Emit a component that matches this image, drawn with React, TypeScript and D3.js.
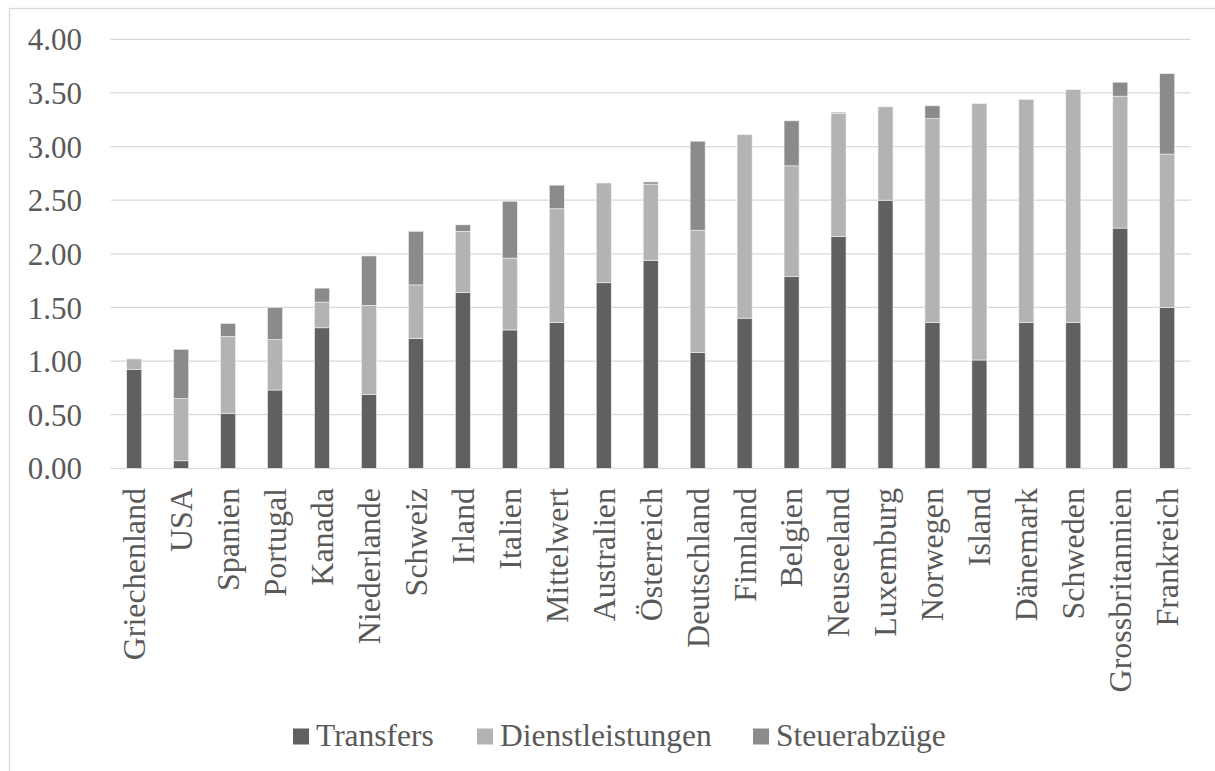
import React from "react";
import * as d3 from "d3";

const categories = [
  "Griechenland", "USA", "Spanien", "Portugal", "Kanada", "Niederlande", "Schweiz",
  "Irland", "Italien", "Mittelwert", "Australien", "Österreich", "Deutschland",
  "Finnland", "Belgien", "Neuseeland", "Luxemburg", "Norwegen", "Island",
  "Dänemark", "Schweden", "Grossbritannien", "Frankreich",
];

const transfers = [
  0.92, 0.07, 0.51, 0.73, 1.31, 0.69, 1.21, 1.64, 1.29, 1.36, 1.73, 1.94, 1.08,
  1.40, 1.79, 2.16, 2.50, 1.36, 1.01, 1.36, 1.36, 2.24, 1.50,
];
const dienstleistungen = [
  0.10, 0.58, 0.72, 0.47, 0.24, 0.83, 0.50, 0.57, 0.67, 1.06, 0.93, 0.71, 1.14,
  1.71, 1.03, 1.15, 0.87, 1.90, 2.39, 2.08, 2.17, 1.23, 1.43,
];
const steuerabzuege = [
  0.00, 0.46, 0.12, 0.30, 0.13, 0.46, 0.50, 0.06, 0.53, 0.22, 0.00, 0.02, 0.83,
  0.00, 0.42, 0.01, 0.00, 0.12, 0.00, 0.00, 0.00, 0.13, 0.75,
];

const seriesNames = ["Transfers", "Dienstleistungen", "Steuerabzüge"];
const seriesColors = ["#606060", "#b3b3b3", "#8b8b8b"];
const yTicks = [0, 0.5, 1, 1.5, 2, 2.5, 3, 3.5, 4];

const W = 1215;
const H = 771;
const plot = { left: 110.7, right: 1190.7, top: 39.3, bottom: 468.3 };
const FONT = "'Liberation Serif', 'Times New Roman', serif";
const TEXT = "#595959";
const GRID = "#d9d9d9";

export default function App() {
  const rows = categories.map((c, i) => ({
    cat: c,
    Transfers: transfers[i],
    Dienstleistungen: dienstleistungen[i],
    "Steuerabzüge": steuerabzuege[i],
  }));
  const stack = d3.stack<any>().keys(seriesNames)(rows);

  const x = d3.scaleBand<string>()
    .domain(categories)
    .range([plot.left, plot.right])
    .paddingInner(0.68)
    .paddingOuter(0.34);
  const y = d3.scaleLinear().domain([0, 4]).range([plot.bottom, plot.top]);

  const legendX = [293, 477, 753];

  return (
    <svg width={W} height={H} style={{ position: "fixed", left: 0, top: 0, background: "#fff" }}>
      <rect x={9.5} y={8.5} width={1240} height={800} fill="#fff" stroke={GRID} strokeWidth={1.3} />

      {yTicks.map((t) => (
        <g key={t}>
          <line x1={plot.left} x2={plot.right} y1={y(t)} y2={y(t)} stroke={GRID} strokeWidth={1.3} />
          <text x={82} y={y(t)} dy="0.36em" textAnchor="end" fontFamily={FONT} fontSize={31} fill={TEXT}>
            {t.toFixed(2)}
          </text>
        </g>
      ))}

      {stack.map((s, si) => (
        <g key={s.key} fill={seriesColors[si]}>
          {s.map((d, i) => (
            d[1] - d[0] > 0 ? (
              <rect
                key={i}
                x={x(categories[i])}
                width={x.bandwidth()}
                y={y(d[1])}
                height={y(d[0]) - y(d[1])}
                stroke="#f2f2f2"
                strokeWidth={0.6}
              />
            ) : null
          ))}
        </g>
      ))}

      {categories.map((c) => {
        const cx = (x(c) as number) + x.bandwidth() / 2;
        return (
          <text
            key={c}
            transform={`translate(${cx},488) rotate(-90)`}
            dy="0.34em"
            textAnchor="end"
            fontFamily={FONT}
            fontSize={32}
            fill={TEXT}
          >
            {c}
          </text>
        );
      })}

      {seriesNames.map((n, i) => (
        <g key={n} transform={`translate(${legendX[i]},0)`}>
          <rect x={0} y={728.5} width={16} height={16} fill={seriesColors[i]} />
          <text x={23} y={746} fontFamily={FONT} fontSize={31.5} fill={TEXT}>{n}</text>
        </g>
      ))}
    </svg>
  );
}
